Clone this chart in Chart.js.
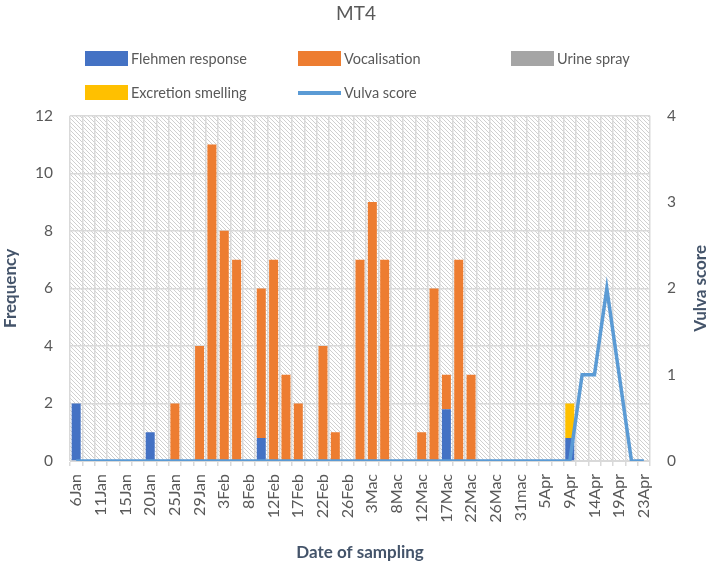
<!DOCTYPE html>
<html>
<head>
<meta charset="utf-8">
<script src="https://cdn.jsdelivr.net/npm/chart.js@4.4.0/dist/chart.umd.min.js"></script>
<style>
  body { margin: 0; background: #fff; }
  #wrap { position: relative; width: 712px; height: 564px; }
  #legend {
    position: absolute; left: 85px; top: 51px;
    display: grid; grid-template-columns: 213px 213px 213px; row-gap: 19px;
    font: 14.5px Lato, sans-serif; color: #595959;
  }
  .item { display: flex; align-items: center; height: 15px; white-space: nowrap; }
  .sw { width: 43px; height: 15px; margin-right: 3px; }
  .ln { width: 43px; height: 4px; margin-right: 3px; }
</style>
</head>
<body>
<div id="wrap">
  <canvas id="chart" width="712" height="564"></canvas>
  <div id="legend"></div>
</div>
<script>
// tick labels shown on every other sampling date
const dateLabels = ['6Jan', '11Jan', '15Jan', '20Jan', '25Jan', '29Jan', '3Feb', '8Feb', '12Feb', '17Feb',
  '22Feb', '26Feb', '3Mac', '8Mac', '12Mac', '17Mac', '22Mac', '26Mac', '31mac', '5Apr', '9Apr', '14Apr', '19Apr', '23Apr'];

// one value per sampling date (47 dates)
const flehmen = [2, 0, 0, 0, 0, 0, 1, 0, 0, 0, 0, 0, 0, 0, 0, 0.8, 0, 0, 0, 0, 0, 0, 0, 0,
  0, 0, 0, 0, 0, 0, 1.8, 0, 0, 0, 0, 0, 0, 0, 0, 0, 0.8, 0, 0, 0, 0, 0, 0];
const vocalisation = [0, 0, 0, 0, 0, 0, 0, 0, 2, 0, 4, 11, 8, 7, 0, 5.2, 7, 3, 2, 0, 4, 1, 0, 7,
  9, 7, 0, 0, 1, 6, 1.2, 7, 3, 0, 0, 0, 0, 0, 0, 0, 0, 0, 0, 0, 0, 0, 0];
const urineSpray = [0, 0, 0, 0, 0, 0, 0, 0, 0, 0, 0, 0, 0, 0, 0, 0, 0, 0, 0, 0, 0, 0, 0, 0,
  0, 0, 0, 0, 0, 0, 0, 0, 0, 0, 0, 0, 0, 0, 0, 0, 0, 0, 0, 0, 0, 0, 0];
const excretion = [0, 0, 0, 0, 0, 0, 0, 0, 0, 0, 0, 0, 0, 0, 0, 0, 0, 0, 0, 0, 0, 0, 0, 0,
  0, 0, 0, 0, 0, 0, 0, 0, 0, 0, 0, 0, 0, 0, 0, 0, 1.2, 0, 0, 0, 0, 0, 0];
const vulvaScore = [0, 0, 0, 0, 0, 0, 0, 0, 0, 0, 0, 0, 0, 0, 0, 0, 0, 0, 0, 0, 0, 0, 0, 0,
  0, 0, 0, 0, 0, 0, 0, 0, 0, 0, 0, 0, 0, 0, 0, 0, 0, 1, 1, 2, 1, 0, 0];

// categories: labelled date, then an unlabelled one in between
const categories = [];
dateLabels.forEach((d, i) => {
  categories.push(d);
  if (i < dateLabels.length - 1) categories.push('');
});

const textColor = '#595959';
const titleColor = '#44546A';
const gridColor = '#D9D9D9';
const titleFont = { family: 'Lato', size: 17, weight: 'bold' };

// diagonal hatch behind the plot area
const hatchPlugin = {
  id: 'hatch',
  beforeDraw(chart) {
    const { ctx, chartArea: a } = chart;
    const tile = document.createElement('canvas');
    tile.width = 4; tile.height = 4;
    const t = tile.getContext('2d');
    t.fillStyle = '#fff';
    t.fillRect(0, 0, 4, 4);
    t.strokeStyle = '#cfcfcf';
    t.lineWidth = 1;
    t.beginPath();
    t.moveTo(-1, -1); t.lineTo(5, 5);
    t.moveTo(-1, 3); t.lineTo(1, 5);
    t.moveTo(3, -1); t.lineTo(5, 1);
    t.stroke();
    ctx.save();
    ctx.fillStyle = ctx.createPattern(tile, 'repeat');
    ctx.fillRect(a.left, a.top, a.right - a.left, a.bottom - a.top);
    ctx.restore();
  }
};

// right axis title reads bottom-to-top in the original
const rightTitle = {
  id: 'rightTitle',
  afterDraw(chart) {
    const { ctx, chartArea: a } = chart;
    ctx.save();
    ctx.translate(701, (a.top + a.bottom) / 2);
    ctx.rotate(-Math.PI / 2);
    ctx.font = 'bold 17px Lato';
    ctx.fillStyle = titleColor;
    ctx.textAlign = 'center';
    ctx.textBaseline = 'middle';
    ctx.fillText('Vulva score', 0, 0);
    ctx.restore();
  }
};

const barSet = (label, data, color) => ({
  type: 'bar', label: label, data: data, backgroundColor: color,
  borderWidth: 0, yAxisID: 'y', order: 1,
  barPercentage: 0.73, categoryPercentage: 1
});

const datasets = [
  barSet('Flehmen response', flehmen, '#4472C4'),
  barSet('Vocalisation', vocalisation, '#ED7D31'),
  barSet('Urine spray', urineSpray, '#A5A5A5'),
  barSet('Excretion smelling', excretion, '#FFC000'),
  {
    type: 'line', label: 'Vulva score', data: vulvaScore,
    borderColor: '#5B9BD5', backgroundColor: '#5B9BD5', borderWidth: 3.5,
    pointRadius: 0, tension: 0, yAxisID: 'y1', order: 0
  }
];

new Chart(document.getElementById('chart').getContext('2d'), {
  data: { labels: categories, datasets: datasets },
  plugins: [hatchPlugin, rightTitle],
  options: {
    responsive: false,
    animation: false,
    layout: { padding: 0 },
    plugins: {
      legend: { display: false },
      tooltip: { enabled: false },
      title: {
        display: true, text: 'MT4', color: textColor,
        font: { family: 'Lato', size: 19, weight: 'normal' },
        padding: { top: 2, bottom: 91 }
      }
    },
    scales: {
      x: {
        stacked: true,
        afterFit(s) { s.height = 103; },
        grid: { color: gridColor, lineWidth: 1.5, offset: true, tickLength: 5, tickColor: gridColor },
        border: { color: gridColor },
        ticks: {
          autoSkip: false, maxRotation: 90, minRotation: 90, padding: 8,
          color: textColor, font: { family: 'Lato', size: 16 }
        },
        title: {
          display: true, text: 'Date of sampling', color: titleColor,
          font: titleFont, padding: { top: 0, bottom: 1 }
        }
      },
      y: {
        stacked: true, position: 'left', min: 0, max: 12,
        afterFit(s) { s.width = 70; },
        grid: { color: gridColor, lineWidth: 1.5, drawTicks: false },
        border: { display: false },
        ticks: { stepSize: 2, padding: 17, color: textColor, font: { family: 'Lato', size: 15.5 } },
        title: {
          display: true, text: 'Frequency', color: titleColor,
          font: titleFont, padding: { top: 0, bottom: 0 }
        }
      },
      y1: {
        position: 'right', min: 0, max: 4,
        afterFit(s) { s.width = 62; },
        grid: { drawOnChartArea: false, drawTicks: false },
        border: { display: false },
        ticks: { stepSize: 1, padding: 17, color: textColor, font: { family: 'Lato', size: 15.5 } }
      }
    }
  }
});

// legend laid out in three columns like the original
const legend = document.getElementById('legend');
datasets.forEach(ds => {
  const item = document.createElement('div');
  item.className = 'item';
  const sw = document.createElement('span');
  sw.className = ds.type === 'line' ? 'ln' : 'sw';
  sw.style.background = ds.type === 'line' ? ds.borderColor : ds.backgroundColor;
  item.appendChild(sw);
  item.appendChild(document.createTextNode(ds.label));
  legend.appendChild(item);
});
</script>
</body>
</html>
